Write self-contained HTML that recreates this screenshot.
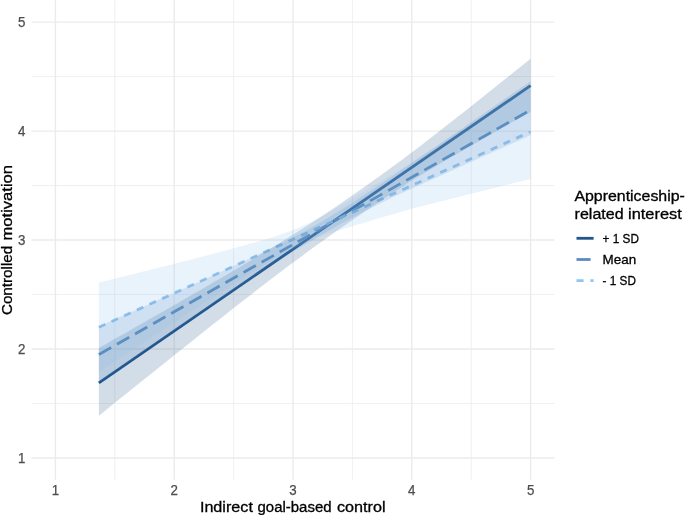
<!DOCTYPE html>
<html lang="en"><head><meta charset="utf-8"><title>Interaction plot</title>
<style>html,body{margin:0;padding:0;background:#fff;overflow:hidden}svg{display:block}text{font-family:"Liberation Sans",sans-serif}</style></head><body>
<svg width="685" height="515" viewBox="0 0 685 515">
<rect width="685" height="515" fill="#ffffff"/>
<g><line x1="114.80" y1="0.31" x2="114.80" y2="479.80" stroke="#ebebeb" stroke-width="0.75"/><line x1="31.64" y1="403.51" x2="554.36" y2="403.51" stroke="#ebebeb" stroke-width="0.75"/><line x1="233.60" y1="0.31" x2="233.60" y2="479.80" stroke="#ebebeb" stroke-width="0.75"/><line x1="31.64" y1="294.54" x2="554.36" y2="294.54" stroke="#ebebeb" stroke-width="0.75"/><line x1="352.40" y1="0.31" x2="352.40" y2="479.80" stroke="#ebebeb" stroke-width="0.75"/><line x1="31.64" y1="185.56" x2="554.36" y2="185.56" stroke="#ebebeb" stroke-width="0.75"/><line x1="471.20" y1="0.31" x2="471.20" y2="479.80" stroke="#ebebeb" stroke-width="0.75"/><line x1="31.64" y1="76.59" x2="554.36" y2="76.59" stroke="#ebebeb" stroke-width="0.75"/><line x1="55.40" y1="0.31" x2="55.40" y2="479.80" stroke="#ebebeb" stroke-width="1.4"/><line x1="31.64" y1="458.00" x2="554.36" y2="458.00" stroke="#ebebeb" stroke-width="1.4"/><line x1="174.20" y1="0.31" x2="174.20" y2="479.80" stroke="#ebebeb" stroke-width="1.4"/><line x1="31.64" y1="349.02" x2="554.36" y2="349.02" stroke="#ebebeb" stroke-width="1.4"/><line x1="293.00" y1="0.31" x2="293.00" y2="479.80" stroke="#ebebeb" stroke-width="1.4"/><line x1="31.64" y1="240.05" x2="554.36" y2="240.05" stroke="#ebebeb" stroke-width="1.4"/><line x1="411.80" y1="0.31" x2="411.80" y2="479.80" stroke="#ebebeb" stroke-width="1.4"/><line x1="31.64" y1="131.08" x2="554.36" y2="131.08" stroke="#ebebeb" stroke-width="1.4"/><line x1="530.60" y1="0.31" x2="530.60" y2="479.80" stroke="#ebebeb" stroke-width="1.4"/><line x1="31.64" y1="22.10" x2="554.36" y2="22.10" stroke="#ebebeb" stroke-width="1.4"/></g>
<line x1="98.88" y1="382.81" x2="530.60" y2="85.63" stroke="#20558d" stroke-width="2.8"/>
<line x1="98.88" y1="354.47" x2="530.60" y2="109.93" stroke="#588cc0" stroke-width="2.8" stroke-dasharray="14.1 6.68"/>
<line x1="98.88" y1="327.23" x2="530.60" y2="131.73" stroke="#92c5f0" stroke-width="2.8" stroke-dasharray="7.1 6.78"/>
<polygon points="98.88,347.97 106.08,343.90 113.27,339.82 120.47,335.74 127.66,331.65 134.86,327.56 142.05,323.47 149.25,319.37 156.44,315.26 163.64,311.14 170.83,307.02 178.03,302.89 185.22,298.76 192.42,294.61 199.62,290.45 206.81,286.28 214.01,282.10 221.20,277.90 228.40,273.69 235.59,269.45 242.79,265.20 249.98,260.92 257.18,256.62 264.37,252.29 271.57,247.93 278.76,243.53 285.96,239.09 293.15,234.60 300.35,230.05 307.55,225.44 314.74,220.77 321.94,216.05 329.13,211.25 336.33,206.39 343.52,201.46 350.72,196.46 357.91,191.48 365.11,186.45 372.30,181.36 379.50,176.21 386.69,171.01 393.89,165.75 401.08,160.45 408.28,155.11 415.47,149.67 422.67,144.13 429.87,138.57 437.06,132.98 444.26,127.37 451.45,121.73 458.65,116.08 465.84,110.41 473.04,104.72 480.23,99.02 487.43,93.31 494.62,87.59 501.82,81.85 509.01,76.11 516.21,70.36 523.40,64.60 530.60,58.84 530.60,111.88 523.40,115.95 516.21,120.02 509.01,124.10 501.82,128.19 494.62,132.28 487.43,136.39 480.23,140.51 473.04,144.64 465.84,148.78 458.65,152.94 451.45,157.12 444.26,161.31 437.06,165.53 429.87,169.77 422.67,174.03 415.47,178.33 408.28,182.79 401.08,187.41 393.89,192.08 386.69,196.79 379.50,201.56 372.30,206.38 365.11,211.26 357.91,216.20 350.72,221.20 343.52,226.28 336.33,231.32 329.13,236.35 321.94,241.45 314.74,246.62 307.55,251.84 300.35,257.13 293.15,262.47 285.96,267.86 278.76,273.29 271.57,278.76 264.37,284.27 257.18,289.81 249.98,295.39 242.79,300.98 235.59,306.60 228.40,312.24 221.20,317.90 214.01,323.58 206.81,329.27 199.62,334.97 192.42,340.69 185.22,346.41 178.03,352.15 170.83,357.89 163.64,363.65 156.44,369.41 149.25,375.17 142.05,380.95 134.86,386.72 127.66,392.51 120.47,398.29 113.27,404.09 106.08,409.88 98.88,415.68" fill="#20558d" fill-opacity="0.2"/>
<polygon points="98.88,326.47 106.08,323.27 113.27,320.07 120.47,316.87 127.66,313.67 134.86,310.46 142.05,307.25 149.25,304.04 156.44,300.83 163.64,297.61 170.83,294.39 178.03,291.16 185.22,287.93 192.42,284.69 199.62,281.44 206.81,278.19 214.01,274.92 221.20,271.64 228.40,268.35 235.59,265.05 242.79,261.72 249.98,258.36 257.18,254.98 264.37,251.56 271.57,248.09 278.76,244.57 285.96,240.98 293.15,237.31 300.35,233.54 307.55,229.66 314.74,225.66 321.94,221.52 329.13,217.24 336.33,212.85 343.52,208.36 350.72,203.78 357.91,199.13 365.11,194.42 372.30,189.67 379.50,184.88 386.69,180.05 393.89,175.20 401.08,170.33 408.28,165.44 415.47,160.54 422.67,155.62 429.87,150.69 437.06,145.76 444.26,140.81 451.45,135.86 458.65,130.91 465.84,125.95 473.04,120.98 480.23,116.01 487.43,111.04 494.62,106.06 501.82,101.09 509.01,96.11 516.21,91.12 523.40,86.14 530.60,81.15 530.60,135.34 523.40,138.54 516.21,141.74 509.01,144.94 501.82,148.14 494.62,151.35 487.43,154.56 480.23,157.77 473.04,160.98 465.84,164.20 458.65,167.43 451.45,170.65 444.26,173.89 437.06,177.13 429.87,180.38 422.67,183.63 415.47,186.90 408.28,190.18 401.08,193.48 393.89,196.79 386.69,200.17 379.50,203.77 372.30,207.40 365.11,211.08 357.91,214.80 350.72,218.57 343.52,222.42 336.33,226.36 329.13,230.39 321.94,234.54 314.74,238.74 307.55,242.90 300.35,247.17 293.15,251.55 285.96,256.03 278.76,260.59 271.57,265.22 264.37,269.91 257.18,274.64 249.98,279.41 242.79,284.20 235.59,289.03 228.40,293.87 221.20,298.73 214.01,303.60 206.81,308.49 199.62,313.39 192.42,318.29 185.22,323.20 178.03,328.12 170.83,333.05 163.64,337.97 156.44,342.91 149.25,347.84 142.05,352.79 134.86,357.73 127.66,362.67 120.47,367.62 113.27,372.57 106.08,377.53 98.88,382.48" fill="#588cc0" fill-opacity="0.2"/>
<polygon points="98.88,282.62 106.08,280.83 113.27,279.05 120.47,277.26 127.66,275.47 134.86,273.67 142.05,271.87 149.25,270.07 156.44,268.27 163.64,266.46 170.83,264.64 178.03,262.82 185.22,260.99 192.42,259.15 199.62,257.30 206.81,255.45 214.01,253.57 221.20,251.68 228.40,249.77 235.59,247.83 242.79,245.86 249.98,243.85 257.18,241.80 264.37,239.67 271.57,237.46 278.76,235.14 285.96,232.68 293.15,230.04 300.35,227.02 307.55,223.76 314.74,220.24 321.94,216.48 329.13,212.48 336.33,208.31 343.52,203.98 350.72,199.53 357.91,195.24 365.11,190.96 372.30,186.62 379.50,182.24 386.69,177.82 393.89,173.38 401.08,168.92 408.28,164.44 415.47,159.86 422.67,155.19 429.87,150.52 437.06,145.83 444.26,141.14 451.45,136.44 458.65,131.73 465.84,127.02 473.04,122.31 480.23,117.59 487.43,112.87 494.62,108.14 501.82,103.41 509.01,98.68 516.21,93.95 523.40,89.22 530.60,84.48 530.60,178.97 523.40,180.76 516.21,182.54 509.01,184.32 501.82,186.11 494.62,187.90 487.43,189.69 480.23,191.49 473.04,193.28 465.84,195.09 458.65,196.89 451.45,198.70 444.26,200.52 437.06,202.35 429.87,204.18 422.67,206.02 415.47,207.87 408.28,209.81 401.08,211.84 393.89,213.89 386.69,215.97 379.50,218.07 372.30,220.21 365.11,222.38 357.91,224.62 350.72,226.84 343.52,228.91 336.33,231.10 329.13,233.44 321.94,235.97 314.74,238.71 307.55,241.71 300.35,244.97 293.15,248.47 285.96,252.35 278.76,256.40 271.57,260.60 264.37,264.91 257.18,269.30 249.98,273.75 242.79,278.26 235.59,282.81 228.40,287.39 221.20,292.00 214.01,296.62 206.81,301.26 199.62,305.92 192.42,310.59 185.22,315.27 178.03,319.96 170.83,324.65 163.64,329.35 156.44,334.06 149.25,338.77 142.05,343.49 134.86,348.20 127.66,352.93 120.47,357.65 113.27,362.38 106.08,367.11 98.88,371.84" fill="#92c5f0" fill-opacity="0.2"/>
<text x="18.1" y="463.00" font-size="14.2" fill="#4d4d4d" stroke="#4d4d4d" stroke-width="0.25" textLength="7.4" lengthAdjust="spacingAndGlyphs">1</text>
<text x="51.70" y="495.2" font-size="14.2" fill="#4d4d4d" stroke="#4d4d4d" stroke-width="0.25" textLength="7.4" lengthAdjust="spacingAndGlyphs">1</text>
<text x="18.1" y="354.02" font-size="14.2" fill="#4d4d4d" stroke="#4d4d4d" stroke-width="0.25" textLength="7.4" lengthAdjust="spacingAndGlyphs">2</text>
<text x="170.50" y="495.2" font-size="14.2" fill="#4d4d4d" stroke="#4d4d4d" stroke-width="0.25" textLength="7.4" lengthAdjust="spacingAndGlyphs">2</text>
<text x="18.1" y="245.05" font-size="14.2" fill="#4d4d4d" stroke="#4d4d4d" stroke-width="0.25" textLength="7.4" lengthAdjust="spacingAndGlyphs">3</text>
<text x="289.30" y="495.2" font-size="14.2" fill="#4d4d4d" stroke="#4d4d4d" stroke-width="0.25" textLength="7.4" lengthAdjust="spacingAndGlyphs">3</text>
<text x="18.1" y="136.08" font-size="14.2" fill="#4d4d4d" stroke="#4d4d4d" stroke-width="0.25" textLength="7.4" lengthAdjust="spacingAndGlyphs">4</text>
<text x="408.10" y="495.2" font-size="14.2" fill="#4d4d4d" stroke="#4d4d4d" stroke-width="0.25" textLength="7.4" lengthAdjust="spacingAndGlyphs">4</text>
<text x="18.1" y="27.10" font-size="14.2" fill="#4d4d4d" stroke="#4d4d4d" stroke-width="0.25" textLength="7.4" lengthAdjust="spacingAndGlyphs">5</text>
<text x="526.90" y="495.2" font-size="14.2" fill="#4d4d4d" stroke="#4d4d4d" stroke-width="0.25" textLength="7.4" lengthAdjust="spacingAndGlyphs">5</text>
<text y="511.7" font-size="14.7" fill="#000" stroke="#000" stroke-width="0.3"><tspan x="199.9" textLength="53.0" lengthAdjust="spacingAndGlyphs">Indirect</tspan> <tspan x="257.5" textLength="74.1" lengthAdjust="spacingAndGlyphs">goal-based</tspan> <tspan x="337.0" textLength="48.6" lengthAdjust="spacingAndGlyphs">control</tspan></text>
<text y="0" font-size="14.7" fill="#000" stroke="#000" stroke-width="0.3" transform="translate(11.9,315.7) rotate(-90)"><tspan x="0.6" textLength="69.4" lengthAdjust="spacingAndGlyphs">Controlled</tspan> <tspan x="75.3" textLength="75.4" lengthAdjust="spacingAndGlyphs">motivation</tspan></text>
<text y="201.3" font-size="14.7" fill="#000" stroke="#000" stroke-width="0.3"><tspan x="574.4" textLength="110.5" lengthAdjust="spacingAndGlyphs">Apprenticeship-</tspan></text>
<text y="219.4" font-size="14.7" fill="#000" stroke="#000" stroke-width="0.3"><tspan x="574.6" textLength="49.0" lengthAdjust="spacingAndGlyphs">related</tspan> <tspan x="628.0" textLength="53.8" lengthAdjust="spacingAndGlyphs">interest</tspan></text>
<line x1="576.5" y1="238.3" x2="593.6" y2="238.3" stroke="#20558d" stroke-width="2.8"/>
<text x="602.6" y="242.9" font-size="13.3" fill="#000" stroke="#000" stroke-width="0.3" textLength="36.3" lengthAdjust="spacingAndGlyphs">+ 1 SD</text>
<line x1="576.5" y1="259.5" x2="593.6" y2="259.5" stroke="#588cc0" stroke-width="2.8" stroke-dasharray="14.1 6.68"/>
<text x="602.6" y="264.0" font-size="13.3" fill="#000" stroke="#000" stroke-width="0.3" textLength="33.6" lengthAdjust="spacingAndGlyphs">Mean</text>
<line x1="576.5" y1="280.6" x2="593.6" y2="280.6" stroke="#92c5f0" stroke-width="2.8" stroke-dasharray="7.1 6.78"/>
<text x="602.6" y="285.1" font-size="13.3" fill="#000" stroke="#000" stroke-width="0.3" textLength="33.3" lengthAdjust="spacingAndGlyphs">- 1 SD</text>
</svg></body></html>
